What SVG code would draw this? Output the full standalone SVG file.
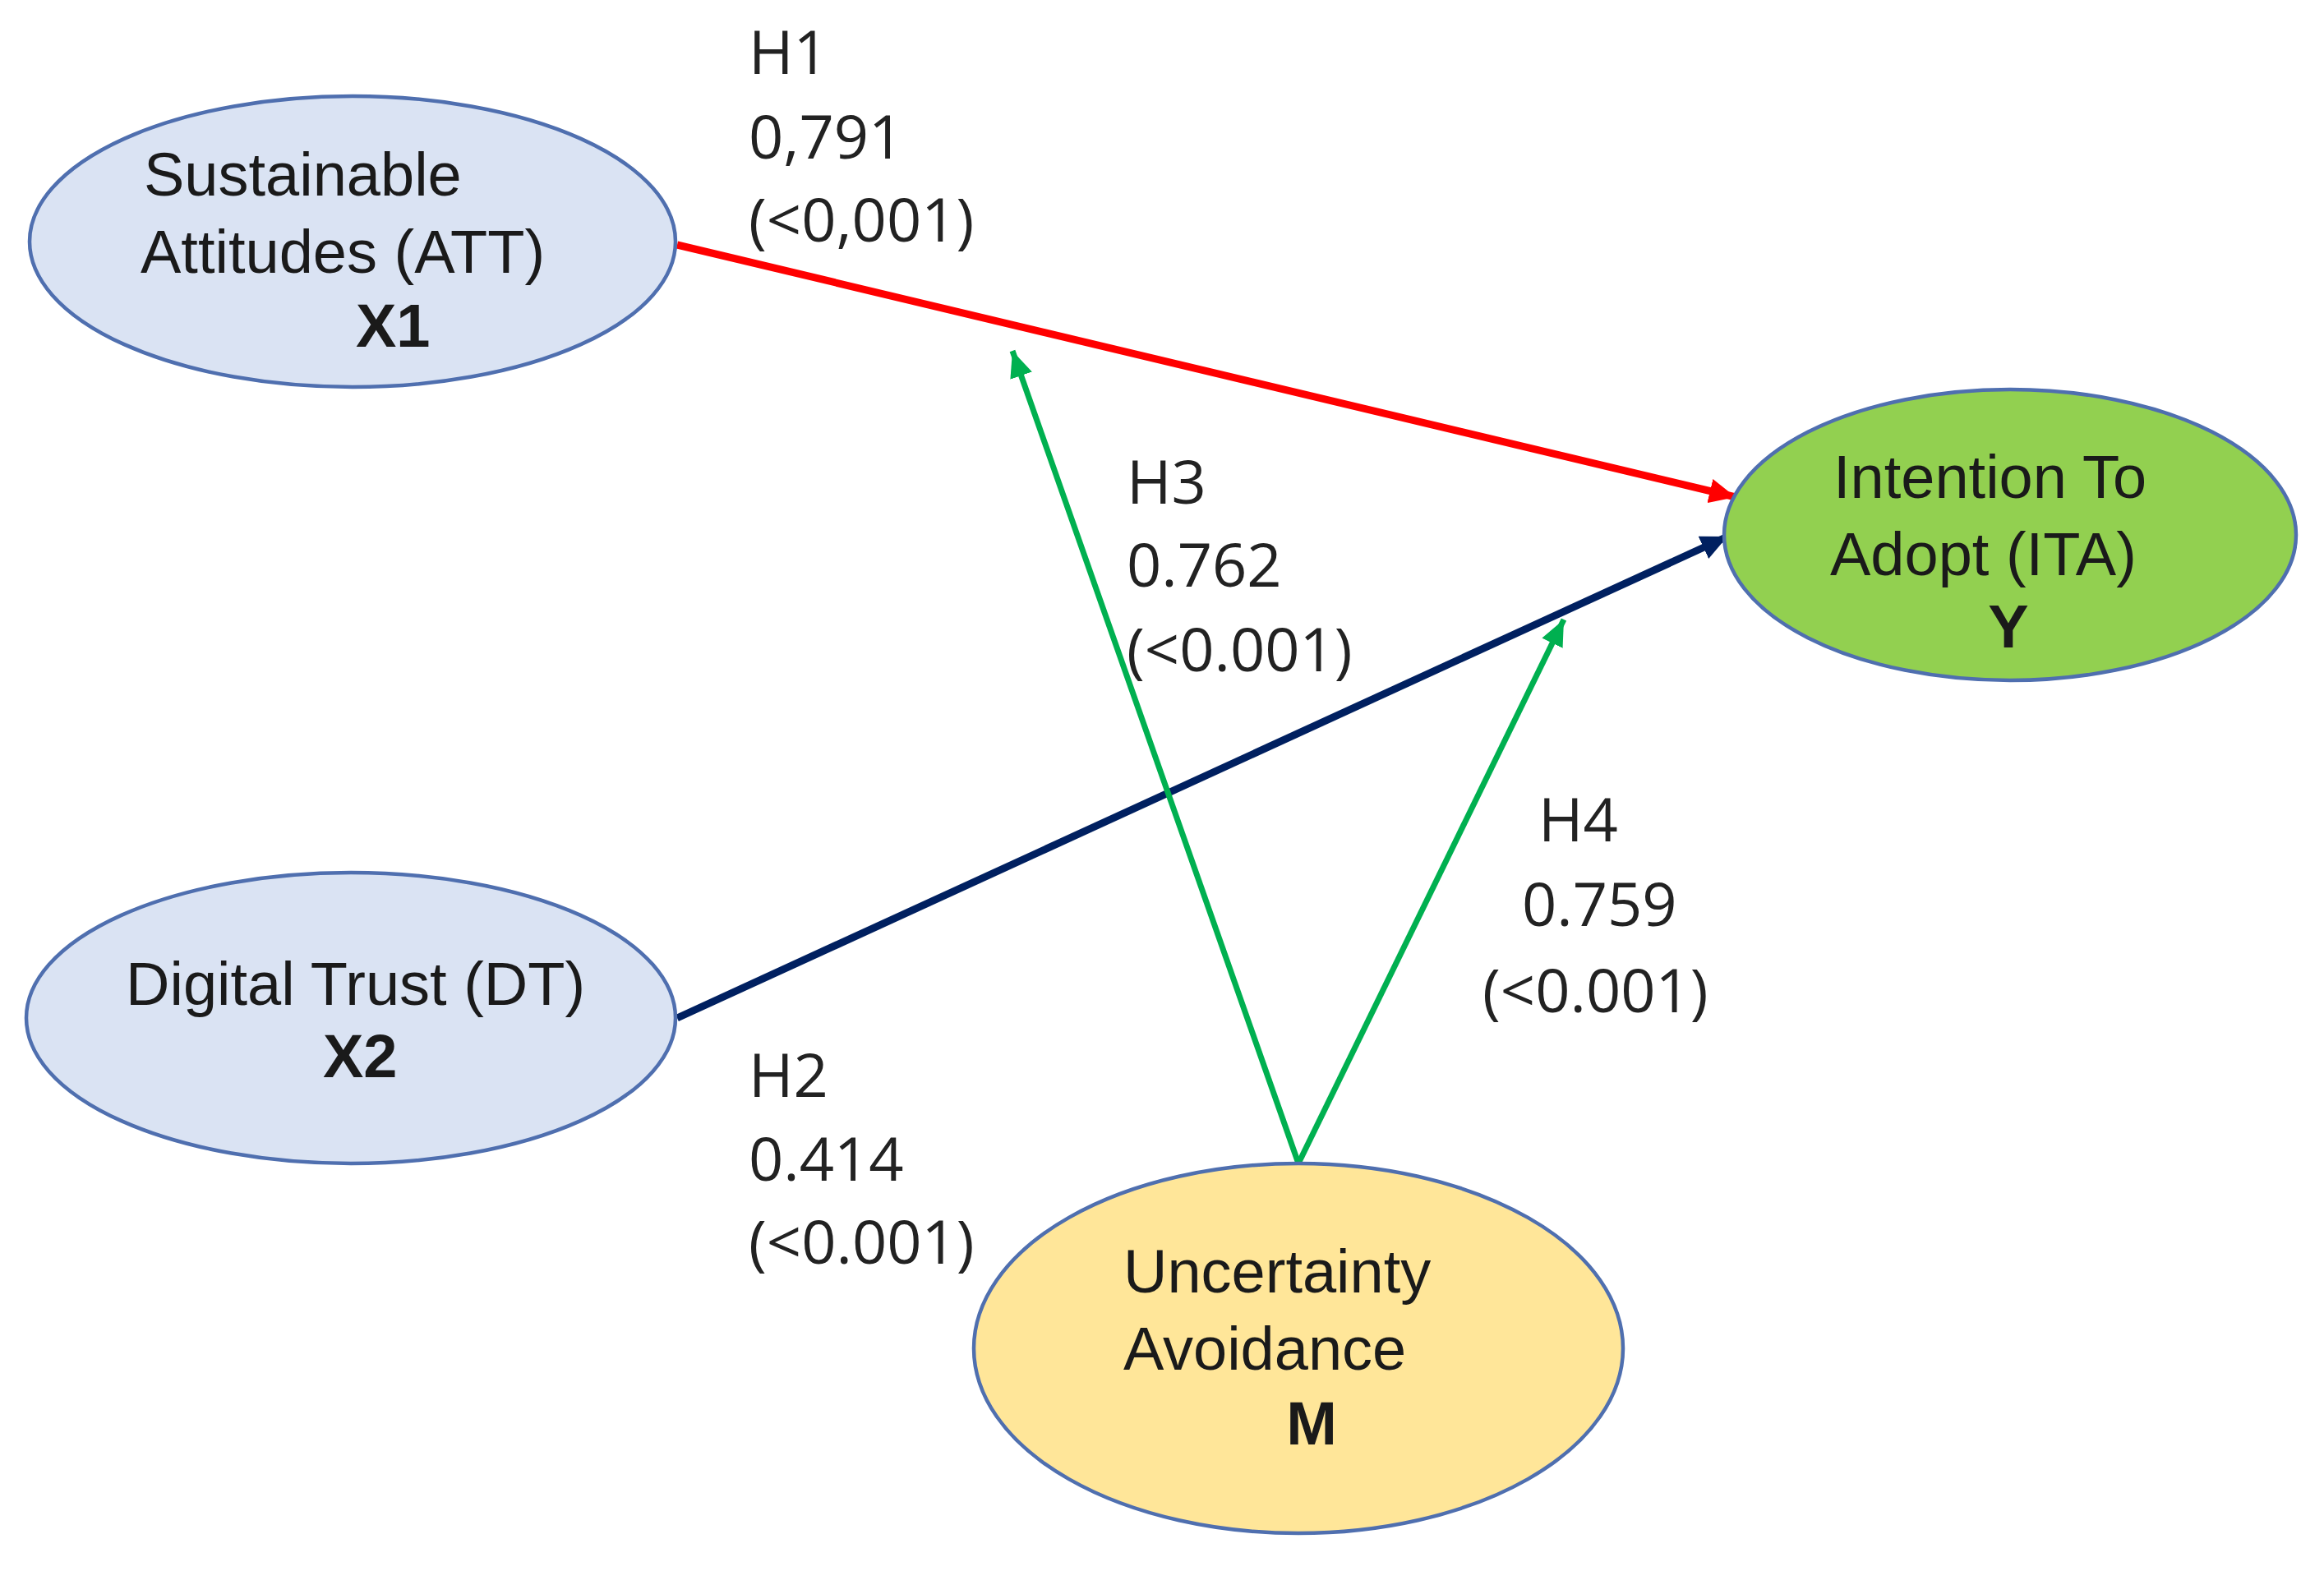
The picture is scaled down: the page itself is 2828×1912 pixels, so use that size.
<svg xmlns="http://www.w3.org/2000/svg" width="2828" height="1912" viewBox="0 0 2828 1912">
<style>
.node{stroke:#4F6FAF;stroke-width:4.5}
.blue{fill:#DAE3F3}
.green{fill:#92D050}
.yellow{fill:#FFE699}
.nt{font-family:"Liberation Sans",Arial,sans-serif;font-size:74px;fill:#1a1a1a}
.b{font-weight:bold}
.lbl{font-family:"Open Sans","Liberation Sans",sans-serif;font-size:74px;fill:#222}
.c{fill:none}
</style>
<defs>
<marker id="aR" markerUnits="userSpaceOnUse" markerWidth="34" markerHeight="30" refX="32" refY="15" orient="auto"><path d="M0,0 L32,15 L0,30 Z" fill="#FF0000"/></marker>
<marker id="aN" markerUnits="userSpaceOnUse" markerWidth="34" markerHeight="30" refX="32" refY="15" orient="auto"><path d="M0,0 L32,15 L0,30 Z" fill="#002060"/></marker>
<marker id="aG" markerUnits="userSpaceOnUse" markerWidth="34" markerHeight="28" refX="32" refY="14" orient="auto"><path d="M0,0 L32,14 L0,28 Z" fill="#00B050"/></marker>
</defs>
<rect width="2828" height="1912" fill="#FFFFFF"/>
<g id="connectors">
<line class="c" x1="824" y1="298" x2="2112" y2="605" stroke="#FF0000" stroke-width="9" marker-end="url(#aR)"/>
<line class="c" x1="824" y1="1239" x2="2102" y2="653" stroke="#002060" stroke-width="9" marker-end="url(#aN)"/>
<line class="c" x1="1580" y1="1416" x2="1232" y2="427" stroke="#00B050" stroke-width="7" marker-end="url(#aG)"/>
<line class="c" x1="1580" y1="1416" x2="1903" y2="754" stroke="#00B050" stroke-width="7" marker-end="url(#aG)"/>
</g>
<g id="node-att">
<ellipse class="node blue" cx="429" cy="294" rx="393" ry="177" stroke-width="6"/>
<text class="nt" x="175" y="238">Sustainable</text>
<text class="nt" x="171" y="332">Attitudes (ATT)</text>
<text class="nt b" x="433" y="422">X1</text>
</g>
<g id="node-dt">
<ellipse class="node blue" cx="427" cy="1239" rx="395" ry="177"/>
<text class="nt" x="153" y="1223">Digital Trust (DT)</text>
<text class="nt b" x="393" y="1311">X2</text>
</g>
<g id="node-ita">
<ellipse class="node green" cx="2446" cy="651" rx="348" ry="177"/>
<text class="nt" x="2231" y="606">Intention To</text>
<text class="nt" x="2227" y="700">Adopt (ITA)</text>
<text class="nt b" x="2444" y="788" text-anchor="middle">Y</text>
</g>
<g id="node-ua">
<ellipse class="node yellow" cx="1580" cy="1641" rx="395" ry="225"/>
<text class="nt" x="1367" y="1573">Uncertainty</text>
<text class="nt" x="1367" y="1667">Avoidance</text>
<text class="nt b" x="1596" y="1758" text-anchor="middle">M</text>
</g>
<g id="labels">
<text class="lbl" x="911" y="90">H1</text>
<text class="lbl" x="911" y="193">0,791</text>
<text class="lbl" x="911" y="294">(&lt;0,001)</text>
<text class="lbl" x="1371" y="613">H3</text>
<text class="lbl" x="1371" y="714">0.762</text>
<text class="lbl" x="1371" y="817">(&lt;0.001)</text>
<text class="lbl" x="1872" y="1024">H4</text>
<text class="lbl" x="1852" y="1127">0.759</text>
<text class="lbl" x="1804" y="1232">(&lt;0.001)</text>
<text class="lbl" x="911" y="1335">H2</text>
<text class="lbl" x="911" y="1437">0.414</text>
<text class="lbl" x="911" y="1538">(&lt;0.001)</text>
</g>
</svg>
